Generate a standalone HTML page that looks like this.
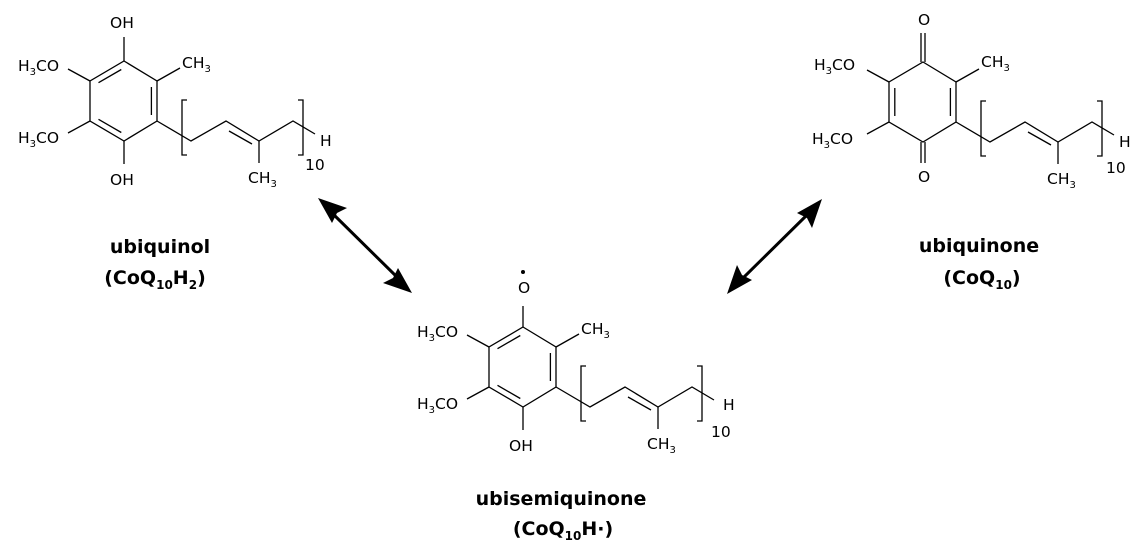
<!DOCTYPE html>
<html><head><meta charset="utf-8"><style>
html,body{margin:0;padding:0;background:#fff;}
svg{display:block}
.m text{font-family:"DejaVu Sans",sans-serif;font-size:15.5px;fill:#000}
.lbl{font-family:"DejaVu Sans","Liberation Sans",sans-serif;font-size:19px;fill:#000;font-weight:bold}
</style></head><body>
<svg width="1142" height="553" viewBox="0 0 1142 553" xmlns="http://www.w3.org/2000/svg">

<!-- Left: ubiquinol -->
<g class="m" stroke="#000" stroke-width="1.3" fill="none">
<polygon points="124,61 157,81 157,121 124,141 90,121 90,81"/>
<line x1="98.5" y1="82.7" x2="121.3" y2="69.5"/>
<line x1="151.4" y1="87" x2="151.4" y2="115"/>
<line x1="121.3" y1="132.5" x2="98.5" y2="119.3"/>
<line x1="124" y1="61" x2="124" y2="37"/>
<line x1="124" y1="141" x2="124" y2="164"/>
<line x1="157" y1="81" x2="180" y2="68"/>
<line x1="90" y1="81" x2="68" y2="69"/>
<line x1="90" y1="121" x2="68" y2="133"/>
<polyline points="157,121 191,141 226,121 259,141 293,121 315,134"/>
<line x1="229" y1="131" x2="252" y2="144"/>
<line x1="259" y1="141" x2="259" y2="163"/>
<path d="M187,100 H182 V155 H187"/><path d="M298,100 H303 V155 H298"/>
<g stroke="none">
<text x="110" y="28">OH</text>
<text x="110" y="185">OH</text>
<text x="182" y="68">CH<tspan font-size="10" dy="4">3</tspan></text>
<text x="18" y="71">H<tspan font-size="10" dy="4">3</tspan><tspan dy="-4">CO</tspan></text>
<text x="18" y="143">H<tspan font-size="10" dy="4">3</tspan><tspan dy="-4">CO</tspan></text>
<text x="320" y="146">H</text>
<text x="305" y="170" font-size="14">10</text>
<text x="248" y="183">CH<tspan font-size="10" dy="4">3</tspan></text>
</g>
</g>

<!-- Middle: ubisemiquinone -->
<g class="m" transform="translate(399,266)" stroke="#000" stroke-width="1.3" fill="none">
<polygon points="124,61 157,81 157,121 124,141 90,121 90,81"/>
<line x1="98.5" y1="82.7" x2="121.3" y2="69.5"/>
<line x1="151.4" y1="87" x2="151.4" y2="115"/>
<line x1="121.3" y1="132.5" x2="98.5" y2="119.3"/>
<line x1="124" y1="61" x2="124" y2="40"/>
<line x1="124" y1="141" x2="124" y2="164"/>
<line x1="157" y1="81" x2="180" y2="68"/>
<line x1="90" y1="81" x2="68" y2="69"/>
<line x1="90" y1="121" x2="68" y2="133"/>
<polyline points="157,121 191,141 226,121 259,141 293,121 315,134"/>
<line x1="229" y1="131" x2="252" y2="144"/>
<line x1="259" y1="141" x2="259" y2="163"/>
<path d="M187,100 H182 V155 H187"/><path d="M298,100 H303 V155 H298"/>
<g stroke="none">
<circle cx="124" cy="6" r="2" fill="#000"/>
<text x="119" y="27">O</text>
<text x="110" y="185">OH</text>
<text x="182" y="68">CH<tspan font-size="10" dy="4">3</tspan></text>
<text x="18" y="71">H<tspan font-size="10" dy="4">3</tspan><tspan dy="-4">CO</tspan></text>
<text x="18" y="143">H<tspan font-size="10" dy="4">3</tspan><tspan dy="-4">CO</tspan></text>
<text x="324" y="144">H</text>
<text x="312" y="171" font-size="14">10</text>
<text x="248" y="183">CH<tspan font-size="10" dy="4">3</tspan></text>
</g>
</g>

<!-- Right: ubiquinone -->
<g class="m" transform="translate(799,1)" stroke="#000" stroke-width="1.3" fill="none">
<polygon points="124,61 157,81 157,121 124,141 90,121 90,81"/>
<line x1="95.8" y1="87" x2="95.8" y2="115"/>
<line x1="151.4" y1="87" x2="151.4" y2="115"/>
<line x1="122" y1="61" x2="122" y2="32"/><line x1="126" y1="61" x2="126" y2="32"/>
<line x1="122" y1="141" x2="122" y2="162"/><line x1="126" y1="141" x2="126" y2="162"/>
<line x1="157" y1="81" x2="180" y2="68"/>
<line x1="90" y1="81" x2="68" y2="69"/>
<line x1="90" y1="121" x2="68" y2="133"/>
<polyline points="157,121 191,141 226,121 259,141 293,121 315,134"/>
<line x1="229" y1="131" x2="252" y2="144"/>
<line x1="259" y1="141" x2="259" y2="163"/>
<path d="M187,100 H182 V155 H187"/><path d="M298,100 H303 V155 H298"/>
<g stroke="none">
<text x="119" y="24">O</text>
<text x="119" y="181">O</text>
<text x="182" y="66">CH<tspan font-size="10" dy="4">3</tspan></text>
<text x="15" y="69">H<tspan font-size="10" dy="4">3</tspan><tspan dy="-4">CO</tspan></text>
<text x="13" y="143">H<tspan font-size="10" dy="4">3</tspan><tspan dy="-4">CO</tspan></text>
<text x="320" y="146">H</text>
<text x="307" y="172" font-size="14">10</text>
<text x="248" y="183">CH<tspan font-size="10" dy="4">3</tspan></text>
</g>
</g>

<!-- Arrows -->
<g stroke="#000" stroke-width="3">
<line x1="330" y1="211" x2="400" y2="280"/>
<line x1="810" y1="212" x2="740" y2="281"/>
</g>
<g fill="#000">
<polygon points="318,198 347,208 337,213 332,223"/>
<polygon points="412,293 383,283 393,278 398,268"/>
<polygon points="822,199 812,228 807,218 797,213"/>
<polygon points="727,294 737,265 742,275 752,280"/>
</g>

<!-- Labels -->
<text class="lbl" x="160" y="253" text-anchor="middle">ubiquinol</text>
<text class="lbl" x="155" y="284" text-anchor="middle">(CoQ<tspan font-size="12" dy="5">10</tspan><tspan dy="-5">H</tspan><tspan font-size="12" dy="5">2</tspan><tspan dy="-5">)</tspan></text>
<text class="lbl" x="561" y="505" text-anchor="middle">ubisemiquinone</text>
<text class="lbl" x="563" y="535" text-anchor="middle">(CoQ<tspan font-size="12" dy="5">10</tspan><tspan dy="-5">H·)</tspan></text>
<text class="lbl" x="979" y="252" text-anchor="middle">ubiquinone</text>
<text class="lbl" x="982" y="284" text-anchor="middle">(CoQ<tspan font-size="12" dy="5">10</tspan><tspan dy="-5">)</tspan></text>
</svg>
</body></html>
